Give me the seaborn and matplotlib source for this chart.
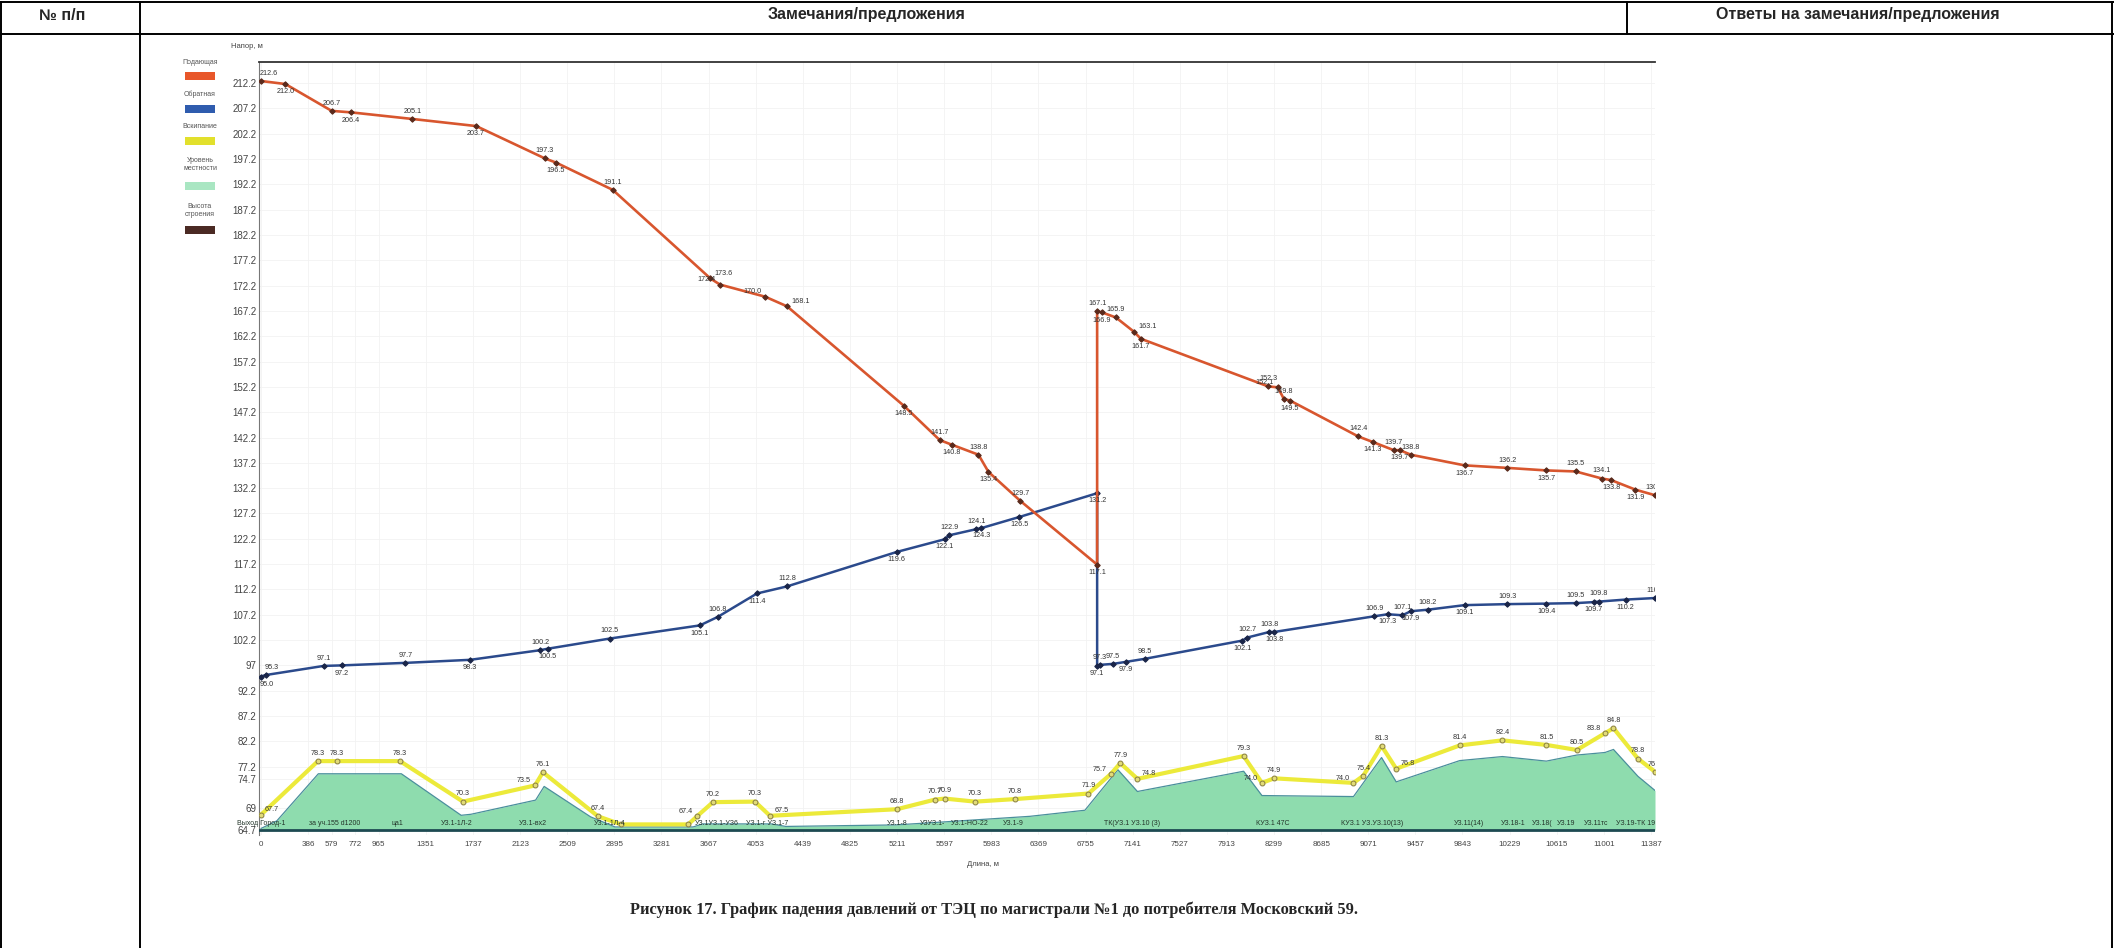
import matplotlib
matplotlib.use('Agg')
import matplotlib.pyplot as plt
import seaborn as sns
from matplotlib.lines import Line2D
from matplotlib.patches import Rectangle

sns.set_style('white')
plt.rcParams['font.family'] = ['Liberation Sans', 'DejaVu Sans']

# ---- data (distance along the main, m / head, m) ----
sup_x = [0, 200, 579, 740, 1241, 1763, 2327, 2416, 2882, 3682, 3760, 4131, 4310, 5265,
         5560, 5657, 5878, 5960, 6220, 6850, 6850, 6890, 7004, 7151, 7208, 8250, 8330,
         8380, 8430, 8990, 9110, 9280, 9330, 9420, 9860, 10210, 10530, 10770, 10985,
         11060, 11260, 11420]
sup_y = [212.6, 212.0, 206.7, 206.4, 205.1, 203.7, 197.3, 196.5, 191.1, 173.6, 172.4,
         170.0, 168.1, 148.5, 141.7, 140.8, 138.8, 135.4, 129.7, 117.1, 167.1, 166.9,
         165.9, 163.1, 161.7, 152.3, 152.1, 149.8, 149.5, 142.4, 141.3, 139.7, 139.7,
         138.8, 136.7, 136.2, 135.7, 135.5, 134.1, 133.8, 131.9, 130.8]

ret_x = [0, 40, 514, 661, 1184, 1714, 2286, 2351, 2857, 3596, 3744, 4063, 4310, 5208,
         5600, 5640, 5860, 5900, 6212, 6850, 6850, 6870, 6980, 7086, 7241, 8040, 8080,
         8260, 8300, 9120, 9230, 9350, 9420, 9560, 9860, 10210, 10530, 10770, 10920,
         10960, 11180, 11420]
ret_y = [95.0, 95.3, 97.1, 97.2, 97.7, 98.3, 100.2, 100.5, 102.5, 105.1, 106.8, 111.4,
         112.8, 119.6, 122.1, 122.9, 124.1, 124.3, 126.5, 131.2, 97.1, 97.3, 97.5, 97.9,
         98.5, 102.1, 102.7, 103.8, 103.8, 106.9, 107.3, 107.1, 107.9, 108.2, 109.1,
         109.3, 109.4, 109.5, 109.7, 109.8, 110.2, 110.5]

yel_x = [0, 467, 623, 1139, 1655, 2245, 2310, 2761, 2950, 3500, 3572, 3703, 4047, 4170,
         5210, 5521, 5603, 5849, 6177, 6779, 6960, 7040, 7180, 8050, 8200, 8300, 8950,
         9030, 9180, 9300, 9820, 10170, 10530, 10780, 11010, 11080, 11280, 11420]
yel_y = [67.7, 78.3, 78.3, 78.3, 70.3, 73.5, 76.1, 67.4, 65.8, 65.8, 67.4, 70.2, 70.3,
         67.5, 68.8, 70.7, 70.9, 70.3, 70.8, 71.9, 75.7, 77.9, 74.8, 79.3, 74.0, 74.9,
         74.0, 75.4, 81.3, 76.8, 81.4, 82.4, 81.5, 80.5, 83.8, 84.8, 78.8, 76.2]

gr_x = [0, 130, 470, 1150, 1640, 1720, 2250, 2320, 2700, 2900, 3540, 3620, 4180, 4300,
        5200, 5600, 6300, 6750, 7020, 7180, 8050, 8200, 8950, 9180, 9300, 9820, 10170,
        10530, 10780, 11010, 11080, 11280, 11420]
gr_y = [65.0, 66.5, 75.8, 75.8, 67.6, 67.8, 70.6, 73.3, 67.3, 65.3, 65.3, 65.9, 65.9,
        65.4, 65.7, 66.3, 67.4, 68.6, 76.6, 72.3, 76.3, 71.5, 71.3, 79.0, 74.2, 78.4,
        79.2, 78.3, 79.5, 80.0, 80.6, 75.3, 72.5]
base_level = 64.7

node_x = [0, 606, 1114, 1606, 2228, 2859, 3736, 4145, 5210, 5505, 5808, 6160, 7137,
          8285, 9102, 9892, 10255, 10497, 10695, 10937, 11267]
node_names = ['Выход Город-1', 'за уч.155 d1200', 'ца1', 'УЗ.1-1Л-2', 'УЗ.1-вх2',
              'УЗ.1-1Л-4', 'УЗ.1УЗ.1-УЗ6', 'УЗ.1-г УЗ.1-7', 'УЗ.1-8', 'УЗУЗ.1-',
              'УЗ.1-НО-22', 'УЗ.1-9', 'ТК(УЗ.1 УЗ.10 (3)', 'КУЗ.1 47С',
              'КУЗ.1 УЗ.УЗ.10(13)', 'УЗ.11(14)', 'УЗ.18-1', 'УЗ.18(', 'УЗ.19',
              'УЗ.11тс', 'УЗ.19-ТК 19(']

xticks = [0, 386, 579, 772, 965, 1351, 1737, 2123, 2509, 2895, 3281, 3667, 4053, 4439,
          4825, 5211, 5597, 5983, 6369, 6755, 7141, 7527, 7913, 8299, 8685, 9071, 9457,
          9843, 10229, 10615, 11001, 11387]
yticks = [212.2, 207.2, 202.2, 197.2, 192.2, 187.2, 182.2, 177.2, 172.2, 167.2, 162.2,
          157.2, 152.2, 147.2, 142.2, 137.2, 132.2, 127.2, 122.2, 117.2, 112.2, 107.2,
          102.2, 97.2, 92.2, 87.2, 82.2, 77.2, 74.7, 69.0, 64.7]
ytick_labels = ['212.2', '207.2', '202.2', '197.2', '192.2', '187.2', '182.2', '177.2',
                '172.2', '167.2', '162.2', '157.2', '152.2', '147.2', '142.2', '137.2',
                '132.2', '127.2', '122.2', '117.2', '112.2', '107.2', '102.2', '97',
                '92.2', '87.2', '82.2', '77.2', '74.7', '69', '64.7']

legend_names = ['Подающая', 'Обратная', 'Вскипание', 'Уровень\nместности', 'Высота\nстроения']
legend_colors = ['#e8572a', '#2f5cae', '#e2e02c', '#a9e6c2', '#4b2a24']

# where each value label sits relative to its point
sup_side = ['ar', 'b', 'a', 'b', 'a', 'b', 'a', 'b', 'a', 'r', 'l', 'l', 'r', 'b', 'a', 'b',
            'a', 'b', 'a', 'b', 'a', 'b', 'a', 'r', 'b', 'a', 'l', 'a', 'b', 'a', 'b', 'a',
            'b', 'a', 'b', 'a', 'b', 'a', 'a', 'b', 'b', 'a']
ret_side = ['br', 'ar', 'a', 'b', 'a', 'b', 'a', 'b', 'a', 'b', 'a', 'b', 'a', 'b', 'b', 'a',
            'a', 'b', 'b', 'b', 'b', 'a', 'a', 'b', 'a', 'b', 'a', 'a', 'b', 'a', 'b', 'a',
            'b', 'a', 'b', 'a', 'b', 'a', 'b', 'a', 'b', 'a']
yel_side = ['r', 'a', 'a', 'a', 'a', 'l', 'a', 'a', '', '', 'l', 'a', 'a', 'r', 'a', 'a',
            'a', 'a', 'a', 'a', 'l', 'a', 'r', 'a', 'l', 'a', 'l', 'a', 'a', 'r', 'a', 'a',
            'a', 'a', 'l', 'a', 'a', 'a']

W, H = 2114, 948


def fx(px):
    return px / W


def fy(py):
    return 1 - py / H


fig = plt.figure(figsize=(W / 100, H / 100), dpi=100)

# table frame
lk = dict(transform=fig.transFigure, color='black', lw=1.4)
fig.add_artist(Line2D([0, 1], [fy(2), fy(2)], **lk))
fig.add_artist(Line2D([0, 1], [fy(34), fy(34)], **lk))
fig.add_artist(Line2D([fx(1), fx(1)], [fy(2), 0], **lk))
fig.add_artist(Line2D([fx(140), fx(140)], [fy(2), 0], **lk))
fig.add_artist(Line2D([fx(1627), fx(1627)], [fy(2), fy(34)], **lk))
fig.add_artist(Line2D([fx(2112), fx(2112)], [fy(2), 0], **lk))
hk = dict(fontsize=11.5, fontweight='bold', va='center', ha='center')
fig.text(fx(62), fy(15), '№ п/п', **hk)
fig.text(fx(867), fy(15), 'Замечания/предложения', **hk)
fig.text(fx(1858), fy(15), 'Ответы на замечания/предложения', **hk)

# chart
ax = fig.add_axes([fx(259), fy(835), fx(1655) - fx(259), fy(62) - fy(835)])
ax.set_xlim(-16, 11420)
ax.set_ylim(63.71, 216.35)
ax.grid(True, color='#f2f2f2', lw=0.6)
ax.set_axisbelow(True)

ax.fill_between(gr_x, base_level, gr_y, color='#8edcae', lw=0, zorder=1)
sns.lineplot(x=gr_x, y=gr_y, ax=ax, color='#4a8f9c', linewidth=0.9, sort=False,
             estimator=None, zorder=2)
ax.axhline(base_level, color='#1d4a52', lw=2, zorder=3)

sns.lineplot(x=yel_x, y=yel_y, ax=ax, color='#ecea3a', linewidth=3, sort=False,
             estimator=None, marker='o', markersize=3.5, markerfacecolor='#e2dc78',
             markeredgecolor='#8c8244', zorder=4)
sns.lineplot(x=ret_x, y=ret_y, ax=ax, color='#2b4a8c', linewidth=1.8, sort=False,
             estimator=None, marker='D', markersize=2.8, markerfacecolor='#1a2548',
             markeredgecolor='#1a2548', zorder=5)
sns.lineplot(x=sup_x, y=sup_y, ax=ax, color='#d8562e', linewidth=1.9, sort=False,
             estimator=None, marker='D', markersize=2.8, markerfacecolor='#5a2a1c',
             markeredgecolor='#5a2a1c', zorder=6)

OFFS = {'a': ((0, 3), 'center', 'bottom'), 'b': ((0, -3), 'center', 'top'),
        'l': ((-3, 1), 'right', 'bottom'), 'r': ((3, 1), 'left', 'bottom'),
        'ar': ((-1, 3), 'left', 'bottom'), 'br': ((-1, -3), 'left', 'top')}


def put_labels(xs, ys, sides):
    for x, y, s in zip(xs, ys, sides):
        if not s:
            continue
        (dx, dy), ha, va = OFFS[s]
        ax.annotate(f'{y:.1f}', (x, y), xytext=(dx, dy), textcoords='offset points',
                    ha=ha, va=va, fontsize=5.2, color='#333333', clip_on=True,
                    annotation_clip=False, zorder=8)


put_labels(sup_x, sup_y, sup_side)
put_labels(ret_x, ret_y, ret_side)
put_labels(yel_x, yel_y, yel_side)

for x, name in zip(node_x, node_names):
    ax.text(x, 65.9, name, fontsize=5, ha='center', va='center', color='#23352a',
            clip_on=x > 11000, zorder=7)

ax.set_xticks(xticks)
ax.set_xticklabels([str(v) for v in xticks], fontsize=5.8, color='#444444')
ax.set_yticks(yticks)
ax.set_yticklabels(ytick_labels, fontsize=7, color='#444444')
ax.tick_params(length=0, pad=2)
ax.tick_params(axis='x', pad=4)
for s in ['right', 'bottom']:
    ax.spines[s].set_visible(False)
ax.spines['left'].set_color('#777777')
ax.spines['top'].set_color('#333333')
ax.spines['top'].set_linewidth(1.3)

fig.text(fx(247), fy(47), 'Напор, м', fontsize=5.5, color='#444444', ha='center', va='center')
fig.text(fx(983), fy(865), 'Длина, м', fontsize=5.5, color='#444444', ha='center', va='center')

# legend at the left of the axis
leg_text_y = [62, 94, 127, 165, 210]
leg_patch_y = [76, 109, 141, 186, 230]
for name, col, ty, py in zip(legend_names, legend_colors, leg_text_y, leg_patch_y):
    fig.text(fx(200), fy(ty), name, fontsize=5, color='#555555', ha='center', va='center',
             linespacing=1.2)
    fig.add_artist(Rectangle((fx(185), fy(py + 4)), fx(30), 8 / H, transform=fig.transFigure,
                             color=col, lw=0))

fig.text(fx(994), fy(910),
         'Рисунок 17. График падения давлений от ТЭЦ по магистрали №1 до потребителя Московский 59.',
         fontsize=11.8, fontweight='bold', family='Liberation Serif', ha='center', va='center')

fig.savefig('out.png', dpi=100)
